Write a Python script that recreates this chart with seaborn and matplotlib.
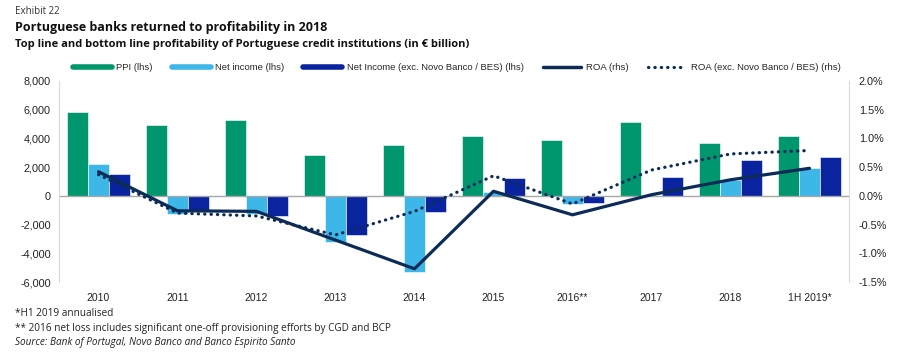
import numpy as np
import pandas as pd
import matplotlib
matplotlib.use("Agg")
import matplotlib.pyplot as plt
from matplotlib.lines import Line2D
import seaborn as sns

categories = ["2010", "2011", "2012", "2013", "2014", "2015", "2016**", "2017", "2018", "1H 2019*"]
ppi = [5840, 4930, 5260, 2860, 3530, 4160, 3860, 5120, 3670, 4190]
net_income = [2210, -1260, -1250, -3230, -5330, 280, -580, 0, 1070, 1910]
net_income_exc = [1530, -1050, -1370, -2700, -1090, 1230, -470, 1300, 2490, 2720]
roa = [0.42, -0.26, -0.27, -0.77, -1.27, 0.08, -0.33, 0.02, 0.28, 0.48]
roa_exc = [0.37, -0.30, -0.35, -0.68, -0.27, 0.35, -0.14, 0.45, 0.73, 0.79]

series_names = ["PPI (lhs)", "Net income (lhs)", "Net Income (exc. Novo Banco / BES) (lhs)"]
line_names = ["ROA (rhs)", "ROA (exc. Novo Banco / BES) (rhs)"]
colors = ["#00976F", "#3DB7E8", "#0A24A0"]
navy = "#0C2B57"
dotted = (0, (0.1, 1.9))

sns.set_theme(style="white")
plt.rcParams["font.family"] = ["Liberation Sans", "DejaVu Sans"]

bars = pd.DataFrame({
    "cat": categories * 3,
    "series": sum([[n] * len(categories) for n in series_names], []),
    "value": ppi + net_income + net_income_exc,
})
lines = pd.DataFrame({"pos": np.arange(len(categories)), "roa": roa, "roa_exc": roa_exc})

fig = plt.figure(figsize=(9, 3.55), dpi=100)
ax = fig.add_axes([59 / 900, 1 - 282 / 355, 790 / 900, 201 / 355])
sns.barplot(data=bars, x="cat", y="value", hue="series", order=categories,
            hue_order=series_names, palette=colors, width=0.8, ax=ax,
            edgecolor="white", linewidth=0.4, legend=False, saturation=1)
ax.set_ylim(-6000, 8000)
ax.set_xlim(-0.5, len(categories) - 0.5)
ax.set_yticks(np.arange(-6000, 8001, 2000))
ax.set_yticklabels([f"{v:,}" for v in range(-6000, 8001, 2000)])
ax.axhline(0, color="#A8A8A8", lw=1.0, zorder=1)
ax.set_xlabel("")
ax.set_ylabel("")
for s in ["top", "bottom", "right"]:
    ax.spines[s].set_visible(False)
ax.spines["left"].set_color("#DADADA")
ax.spines["left"].set_linewidth(0.8)
ax.tick_params(axis="y", length=0, labelsize=7.8, colors="#222222", pad=6)
ax.tick_params(axis="x", length=0, labelsize=7.5, colors="#222222", pad=8)

ax2 = ax.twinx()
sns.lineplot(data=lines, x="pos", y="roa", color=navy, lw=2.3, ax=ax2, zorder=5)
sns.lineplot(data=lines, x="pos", y="roa_exc", color=navy, lw=2.3, ax=ax2, zorder=5,
             linestyle=dotted, dash_capstyle="round")
ax2.set_ylim(-1.5, 2.0)
ax2.set_yticks(np.arange(-1.5, 2.01, 0.5))
ax2.set_yticklabels([f"{v:.1f}%" for v in np.arange(-1.5, 2.01, 0.5)])
ax2.set_xlim(-0.5, len(categories) - 0.5)
ax2.set_ylabel("")
ax2.set_xlabel("")
for s in ["top", "bottom", "left"]:
    ax2.spines[s].set_visible(False)
ax2.spines["right"].set_color("#DADADA")
ax2.spines["right"].set_linewidth(0.8)
ax2.tick_params(axis="both", length=0, labelsize=7.8, colors="#222222", pad=7)

handles = [Line2D([], [], color=c, lw=4) for c in colors]
handles += [Line2D([], [], color=navy, lw=2.5),
            Line2D([], [], color=navy, lw=2.3, linestyle=dotted, dash_capstyle="round")]
fig.legend(handles, series_names + line_names, loc="center", ncol=5,
           bbox_to_anchor=(457 / 900, 1 - 68 / 355), frameon=False,
           fontsize=6.8, handlelength=4.1, handletextpad=0.5, columnspacing=2.0)

tf = ["Open Sans", "DejaVu Sans"]
fig.text(15 / 900, 1 - 11 / 355, "Exhibit 22", fontsize=7.0, color="#333333",
         family=tf, va="center", ha="left")
fig.text(15 / 900, 1 - 28 / 355, "Portuguese banks returned to profitability in 2018",
         fontsize=9.0, fontweight="bold", color="#111111", family=tf, va="center", ha="left")
fig.text(15 / 900, 1 - 45 / 355,
         "Top line and bottom line profitability of Portuguese credit institutions (in \u20ac billion)",
         fontsize=8.05, fontweight="bold", color="#111111", family=tf, va="center", ha="left")
fig.text(15 / 900, 1 - 313 / 355, "*H1 2019 annualised", fontsize=7.2, color="#222222",
         family=tf, va="center", ha="left")
fig.text(15 / 900, 1 - 328 / 355,
         "** 2016 net loss includes significant one-off provisioning efforts by CGD and BCP",
         fontsize=7.2, color="#222222", family=tf, va="center", ha="left")
fig.text(15 / 900, 1 - 342 / 355, "Source: Bank of Portugal, Novo Banco and Banco Espirito Santo",
         fontsize=7.2, color="#222222", style="italic", family=tf, va="center", ha="left")

fig.savefig("out.png", dpi=100)
